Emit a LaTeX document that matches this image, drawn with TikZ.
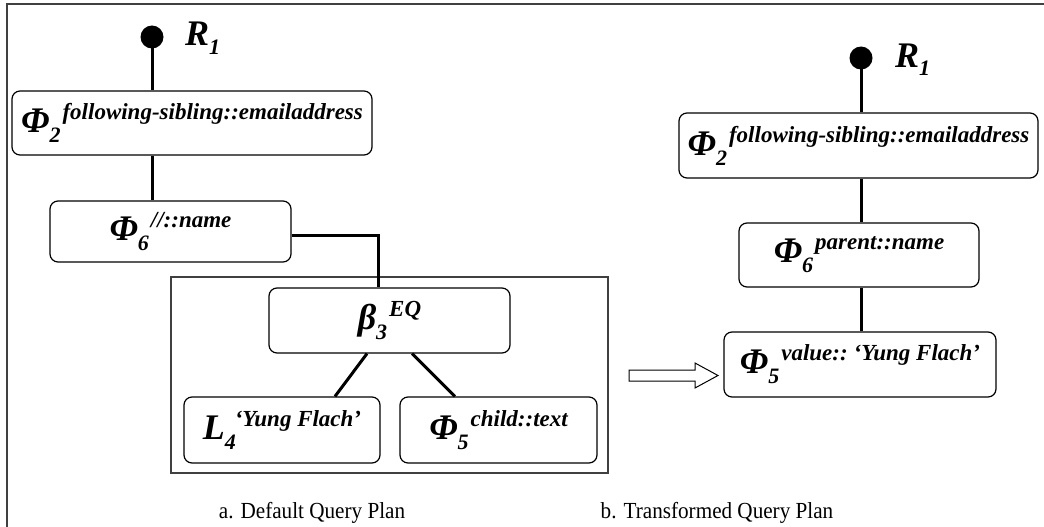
\documentclass[tikz,border=0pt]{standalone}
\usepackage{fontspec}
\setmainfont{Liberation Serif}
\usepackage{graphicx}
\newcommand\bigsym[1]{{\fontsize{36}{36}\selectfont\bfseries\itshape #1}}
\newcommand\subsym[1]{{\fontsize{22}{22}\selectfont\bfseries\itshape #1}}
\newcommand\supsym[1]{{\fontsize{23}{23}\selectfont\bfseries\itshape #1}}
\newcommand\oplbl[3]{\bigsym{#1}\raisebox{-10pt}{\subsym{#2}}\kern2pt\raisebox{13pt}{\supsym{#3}}}
\newcommand\caplbl[1]{\scalebox{0.92}[1]{\fontsize{23}{23}\selectfont #1}}
\begin{document}
\begin{tikzpicture}[x=1pt,y=-1pt,
  opbox/.style={draw=black,line width=1.2pt,rounded corners=8pt,inner sep=0pt},
  conn/.style={line width=3pt,black},
  frameline/.style={draw=black!75,line width=2pt},
  inframe/.style={draw=black!75,line width=1.2pt},
  rootdot/.style={circle,fill=black,inner sep=0pt,minimum size=23pt}]
\useasboundingbox (0,0) rectangle (1044,527);
% outer frame (top and left)
\draw[frameline] (7,527) -- (7,4) -- (1044,4);
% ---------- left tree ----------
\node[rootdot] (rL) at (152,37) {};
\node[anchor=base west,inner sep=0pt] (r1L) at (185,46) {\bigsym{R}\raisebox{-9pt}{\subsym{1}}};
\node[opbox,minimum width=360pt,minimum height=64pt] (p2L) at (192,123) {\oplbl{Φ}{2}{following-sibling::emailaddress}};
\node[opbox,minimum width=241pt,minimum height=61pt] (p6L) at (170.5,231.5) {\oplbl{Φ}{6}{//::name}};
\node[inframe,minimum width=437pt,minimum height=196pt,inner sep=0pt] (inner) at (389.5,375) {};
\node[opbox,minimum width=241pt,minimum height=65pt] (b3) at (389.5,320.5) {\oplbl{β}{3}{EQ}};
\node[opbox,minimum width=196pt,minimum height=66pt] (l4) at (282,430) {\bigsym{L}\raisebox{-10pt}{\subsym{4}}\kern-1pt\raisebox{13pt}{\supsym{‘Yung Flach’}}};
\node[opbox,minimum width=197pt,minimum height=66pt] (p5c) at (498.5,430) {\oplbl{Φ}{5}{child::text}};
\draw[conn] (rL.center) -- (rL.center |- p2L.north);
\draw[conn] (p2L.south -| rL.center) -- (p6L.north -| rL.center);
\coordinate (elbow) at (378,235);
\draw[conn] (p6L.east |- elbow) -- (elbow) -- (elbow |- b3.north);
\draw[conn] (b3.south -| 367,0) -- (l4.north -| 335,0);
\draw[conn] (b3.south -| 412,0) -- (p5c.north -| 455,0);
% ---------- right tree ----------
\node[rootdot] (rR) at (861,58) {};
\node[anchor=base west,inner sep=0pt] (r1R) at (895,67) {\bigsym{R}\raisebox{-9pt}{\subsym{1}}};
\node[opbox,minimum width=359pt,minimum height=65pt] (p2R) at (858.5,145.5) {\oplbl{Φ}{2}{following-sibling::emailaddress}};
\node[opbox,minimum width=240pt,minimum height=64pt] (p6R) at (859,255) {\oplbl{Φ}{6}{parent::name}};
\node[opbox,minimum width=272pt,minimum height=65pt] (p5R) at (860,364.5) {\oplbl{Φ}{5}{value::\kern6pt ‘Yung Flach’}};
\draw[conn] (rR.center) -- (rR.center |- p2R.north);
\draw[conn] (p2R.south -| rR.center) -- (p6R.north -| rR.center);
\draw[conn] (p6R.south -| rR.center) -- (p5R.north -| rR.center);
% transformation arrow
\draw[line width=1pt] (629,370) -- (695,370) -- (695,363) -- (718,375.5) -- (695,388) -- (695,381) -- (629,381) -- cycle;
% captions
\node (capa) at (312,513) {\caplbl{a. Default Query Plan}};
\node (capb) at (717,513) {\caplbl{b. Transformed Query Plan}};
\end{tikzpicture}
\end{document}
